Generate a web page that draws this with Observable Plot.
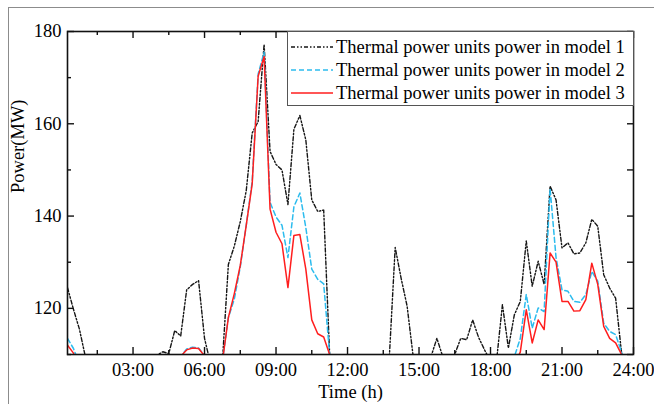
<!DOCTYPE html>
<html>
<head>
<meta charset="utf-8">
<script src="https://cdn.jsdelivr.net/npm/d3@7"></script>
<script src="https://cdn.jsdelivr.net/npm/@observablehq/plot@0.6"></script>
<style>
  body { margin: 0; background: #fff; }
  #wrap { position: relative; width: 654px; height: 404px; overflow: hidden; font-family: "Liberation Serif", "Times New Roman", serif; }
  #border { position: absolute; left: 8px; top: 7px; width: 700px; height: 450px; border-top: 1px solid #8c8c8c; border-left: 1px solid #8c8c8c; }
  #chart { position: absolute; left: 0; top: 0; }
  #legend { position: absolute; left: 287px; top: 31px; width: 345px; height: 73px; border: 1px solid #555; background: #fff; }
  .row { position: absolute; left: 0; width: 345px; height: 22px; }
  .row svg { position: absolute; left: 3px; top: 6px; }
  .row span { position: absolute; left: 48px; top: 0; font-size: 18.5px; line-height: 22px; color: #000; white-space: nowrap; }
</style>
</head>
<body>
<div id="wrap">
  <div id="border"></div>
  <div id="chart"></div>
  <div id="legend"></div>
</div>
<script>
// ---- data (15-min resolution, hours) ----
const times = [0.25,0.5,0.75,1,1.25,1.5,1.75,2,2.25,2.5,2.75,3,3.25,3.5,3.75,4,4.25,4.5,4.75,5,5.25,5.5,5.75,6,
  6.25,6.5,6.75,7,7.25,7.5,7.75,8,8.25,8.5,8.75,9,9.25,9.5,9.75,10,10.25,10.5,10.75,11,11.25,11.5,11.75,12,
  12.25,12.5,12.75,13,13.25,13.5,13.75,14,14.25,14.5,14.75,15,15.25,15.5,15.75,16,16.25,16.5,16.75,17,17.25,17.5,17.75,18,
  18.25,18.5,18.75,19,19.25,19.5,19.75,20,20.25,20.5,20.75,21,21.25,21.5,21.75,22,22.25,22.5,22.75,23,23.25,23.5,23.75,24];

const model1 = [124.5,119.8,115.5,109.5,105,105,105,105,105,105,105,105,105,105,105,109.8,110.6,110.2,115.2,114,124,125.2,126,113.5,
  108,105,108.5,129.5,133.5,138.8,145.5,158,160.5,177.2,154,151.2,150,142.5,158.8,161.8,156.5,143.5,141,141.3,110,105,105,105,
  105,105,105,105,105,105,109,133.2,126.5,120.5,109.8,105,105,109.5,113.5,109.5,105,110,113.5,113.2,117.5,113.7,111,108.5,
  108.5,120.8,111.4,118.6,121.5,134.6,124.8,130.2,125.2,146.5,143.5,133.1,134.2,131.8,132,134.2,139.3,137.8,127.3,124.4,122.2,110.3,108,108];

const model2 = [113.5,111.3,108,105,105,105,105,105,105,105,105,105,105,105,105,105,105,105,105,109.6,111.2,111.6,111.4,109.8,
  105,105,108.5,118,122,129,138,147.5,170.8,175.5,143,139.8,138,131,142,145,137.5,128.5,126.3,125.3,110,105,105,105,
  105,105,105,105,105,105,105,105,105,105,105,105,105,105,105,105,105,105,105,105,105,105,105,105,
  105,105,105,109.5,113.5,123,115.7,120.1,119.3,146,131,124,123.7,121.5,121.3,123,128,125.9,116.8,115,114.3,110.5,107,107];

const model3 = [112,110.3,107,105,105,105,105,105,105,105,105,105,105,105,105,105,105,105,105,109.6,111,111.4,111.3,109.7,
  105,105,108.5,118,123.2,129.3,138,147,170.3,174.6,141.5,136.5,134,124.5,135.8,136,128.5,117.5,114.5,113.8,110,105,105,105,
  105,105,105,105,105,105,105,105,105,105,105,105,105,105,105,105,105,105,105,105,105,105,105,105,
  105,105,105,108,110.5,119.7,112.5,117.5,115.4,132,130,121.5,121.5,119.4,119.5,121.9,129.8,125.2,116.1,113.5,112.5,110,106,106];

const seriesNames = ["Thermal power units power in model 1", "Thermal power units power in model 2", "Thermal power units power in model 3"];

const xMajor = [3, 6, 9, 12, 15, 18, 21, 24];
const xTickLabels = ["03:00", "06:00", "09:00", "12:00", "15:00", "18:00", "21:00", "24:00"];
const xMinor = [1.5, 4.5, 7.5, 10.5, 13.5, 16.5, 19.5, 22.5];
const yMajor = [120, 140, 160, 180];
const yMinor = [110, 130, 150, 170];

// ---- styles ----
const seriesStyles = [
  {stroke: "#151515", dash: "4,2,1.5,2,1.5,2", width: 1.4},
  {stroke: "#2cbcee", dash: "5,3", width: 1.5},
  {stroke: "#ff1e1e", dash: null, width: 1.5}
];

const rows = times.map((t, i) => ({t, m1: model1[i], m2: model2[i], m3: model3[i]}));
const keys = ["m1", "m2", "m3"];

const W = 654, H = 404, mt = 31, mb = 50, ml = 67, mr = 21;
const innerH = H - mt - mb, innerW = W - ml - mr;
const major = 7, minor = 4;
const tk = {stroke: "#111", strokeWidth: 1.4};

const chart = Plot.plot({
  width: W, height: H,
  marginTop: mt, marginBottom: mb, marginLeft: ml, marginRight: mr,
  style: {fontFamily: "'Liberation Serif', 'Times New Roman', serif", fontSize: "18.5px", color: "#000", background: "transparent", overflow: "visible"},
  x: {domain: [0.25, 24], ticks: xMajor, tickSize: 0, tickPadding: 8, label: null,
      tickFormat: d => xTickLabels[xMajor.indexOf(d)]},
  y: {domain: [110, 180], ticks: yMajor, tickSize: 0, tickPadding: 6, label: null},
  marks: [
    ...keys.map((k, i) => Plot.line(rows, {
      x: "t", y: k, stroke: seriesStyles[i].stroke, strokeWidth: seriesStyles[i].width,
      strokeDasharray: seriesStyles[i].dash, clip: true
    })),
    // inward ticks on all four sides
    Plot.ruleX(xMajor, {...tk, insetTop: innerH - major}),
    Plot.ruleX(xMinor, {...tk, insetTop: innerH - minor}),
    Plot.ruleX(xMajor, {...tk, insetBottom: innerH - major}),
    Plot.ruleX(xMinor, {...tk, insetBottom: innerH - minor}),
    Plot.ruleY(yMajor, {...tk, insetRight: innerW - major}),
    Plot.ruleY(yMinor, {...tk, insetRight: innerW - minor}),
    Plot.ruleY(yMajor, {...tk, insetLeft: innerW - 6}),
    Plot.ruleY(yMinor, {...tk, insetLeft: innerW - 6}),
    Plot.frame({stroke: "#111", strokeWidth: 1.6}),
    Plot.text(["Time (h)"], {frameAnchor: "bottom", dy: 38, lineAnchor: "middle", fontSize: 18.5}),
    Plot.text(["Power(MW)"], {frameAnchor: "left", dx: -49, rotate: -90, fontSize: 18.5})
  ]
});
document.getElementById("chart").appendChild(chart);

// ---- legend ----
const legend = document.getElementById("legend");
seriesNames.forEach((name, i) => {
  const row = document.createElement("div");
  row.className = "row";
  row.style.top = (4 + i * 23) + "px";
  const s = seriesStyles[i];
  row.innerHTML = `<svg width="44" height="10"><line x1="0" y1="5" x2="42" y2="5" stroke="${s.stroke}" stroke-width="${s.width}" ${s.dash ? `stroke-dasharray="${s.dash}"` : ""}/></svg><span>${name}</span>`;
  legend.appendChild(row);
});
</script>
</body>
</html>
